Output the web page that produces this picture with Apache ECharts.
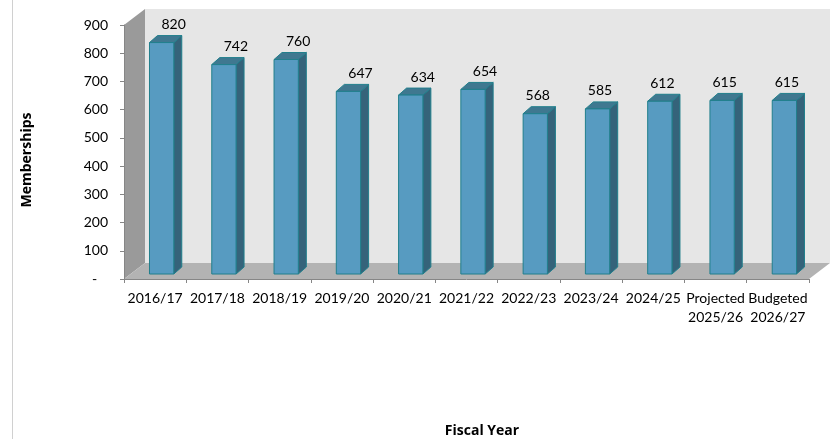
<!DOCTYPE html>
<html>
<head>
<meta charset="utf-8">
<script src="https://cdn.jsdelivr.net/npm/echarts@6/dist/echarts.min.js"></script>
<style>
  html, body { margin: 0; padding: 0; background: #fff; }
  #chart { width: 831px; height: 439px; }
</style>
</head>
<body>
<div id="chart"></div>
<script>
// Membership counts per fiscal year
const categories = ['2016/17', '2017/18', '2018/19', '2019/20', '2020/21', '2021/22',
  '2022/23', '2023/24', '2024/25', 'Projected\n2025/26', 'Budgeted\n2026/27'];
const memberships = [820, 742, 760, 647, 634, 654, 568, 585, 612, 615, 615];
const yTicks = { min: 0, max: 900, interval: 100 };

const FONT = 'Lato, "Open Sans", sans-serif';

// Oblique depth of the 3D box (full depth) and bar placement inside it
const DEPTH = [21, -16];
const BAR_SHIFT = [6.5, -5];
const BAR_DEPTH = [8, -7];

const chart = echarts.init(document.getElementById('chart'));

function renderWalls(params, api) {
  const cs = params.coordSys;
  const x0 = cs.x, x1 = cs.x + cs.width, y0 = cs.y, y1 = cs.y + cs.height;
  const dx = DEPTH[0], dy = DEPTH[1];
  return {
    type: 'group',
    children: [
      { type: 'polygon', shape: { points: [[x0 + dx, y0 + dy], [x1 + dx, y0 + dy], [x1 + dx, y1 + dy], [x0 + dx, y1 + dy]] },
        style: { fill: '#e6e6e6' } },
      { type: 'polygon', shape: { points: [[x0, y0], [x0 + dx, y0 + dy], [x0 + dx, y1 + dy], [x0, y1]] },
        style: { fill: '#9a9a9a' } },
      { type: 'polygon', shape: { points: [[x0, y1], [x1, y1], [x1 + dx, y1 + dy], [x0 + dx, y1 + dy]] },
        style: { fill: '#b3b3b3' } }
    ]
  };
}

function renderBar(params, api) {
  const i = api.value(0);
  const v = api.value(1);
  const top = api.coord([i, v]);
  const base = api.coord([i, 0]);
  const w = api.size([1, 0])[0] * 0.39;
  const x0 = top[0] - w / 2 + BAR_SHIFT[0];
  const x1 = x0 + w;
  const yT = top[1] + BAR_SHIFT[1];
  const yB = base[1] + BAR_SHIFT[1];
  const dx = BAR_DEPTH[0], dy = BAR_DEPTH[1];
  const edge = '#217f8c';
  const labelShift = i < 6 ? 12 : 2.5;
  return {
    type: 'group',
    children: [
      { type: 'polygon', shape: { points: [[x1, yT], [x1 + dx, yT + dy], [x1 + dx, yB + dy], [x1, yB]] },
        style: { fill: '#35637a', stroke: edge, lineWidth: 1 } },
      { type: 'polygon', shape: { points: [[x0, yT], [x0 + dx, yT + dy], [x1 + dx, yT + dy], [x1, yT]] },
        style: { fill: '#3f7890', stroke: edge, lineWidth: 1 } },
      { type: 'rect', shape: { x: x0, y: yT, width: w, height: yB - yT },
        style: { fill: '#579bc1', stroke: edge, lineWidth: 1 } },
      { type: 'text', x: (x0 + x1) / 2 + labelShift, y: yT - 18,
        style: { text: String(v), fill: '#000', font: '14px ' + FONT, align: 'center', verticalAlign: 'middle' } }
    ]
  };
}

chart.setOption({
  animation: false,
  grid: { left: 124, right: 22, top: 25, bottom: 160, containLabel: false },
  xAxis: {
    type: 'category',
    data: categories,
    boundaryGap: true,
    z: 5,
    axisLine: { show: true, lineStyle: { color: '#868686', width: 1 } },
    axisTick: { show: true, length: 4, alignWithLabel: false, lineStyle: { color: '#868686' } },
    axisLabel: { color: '#000', fontSize: 14, fontFamily: FONT, margin: 10, lineHeight: 19, interval: 0 }
  },
  yAxis: {
    type: 'value',
    min: yTicks.min, max: yTicks.max, interval: yTicks.interval,
    z: 5,
    splitLine: { show: false },
    axisLine: { show: true, lineStyle: { color: '#868686', width: 1 } },
    axisTick: { show: true, length: 4, lineStyle: { color: '#868686' } },
    axisLabel: { color: '#000', fontSize: 14, fontFamily: FONT, margin: 16,
      formatter: v => (v === 0 ? '-   ' : String(v)) }
  },
  graphic: [
    { type: 'line', shape: { x1: 12.5, y1: 0, x2: 12.5, y2: 439 }, style: { stroke: '#d0d0d0', lineWidth: 1 } },
    { type: 'text', x: 27, y: 160, rotation: Math.PI / 2,
      style: { text: 'Memberships', font: 'bold 14px "Open Sans", sans-serif', fill: '#000', align: 'center', verticalAlign: 'middle' } },
    { type: 'text', x: 482, y: 431,
      style: { text: 'Fiscal Year', font: 'bold 14px "Open Sans", sans-serif', fill: '#000', align: 'center', verticalAlign: 'middle' } }
  ],
  series: [
    { type: 'custom', name: 'walls', z: 1, silent: true, data: [[0, 0]], renderItem: renderWalls },
    { type: 'custom', name: 'Memberships', z: 2, data: memberships.map((v, i) => [i, v]), renderItem: renderBar }
  ]
});
</script>
</body>
</html>
